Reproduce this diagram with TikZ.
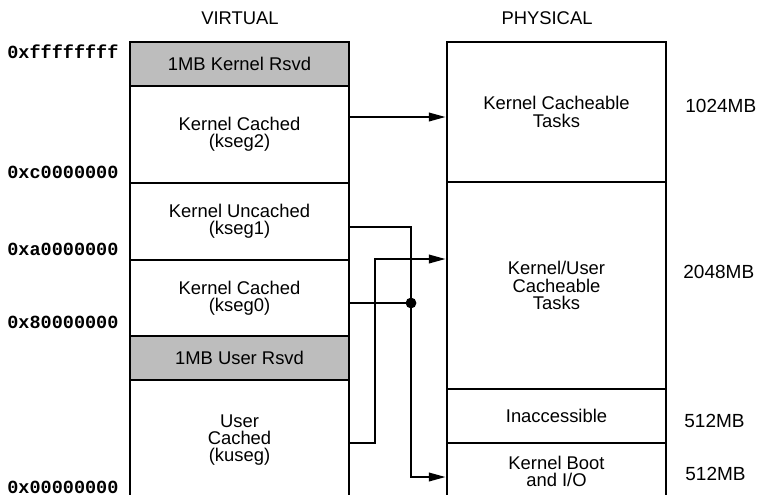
\documentclass[tikz,border=0pt]{standalone}
\usepackage{fontspec}
\setmainfont{Liberation Sans}
\newfontfamily\hexfont{Liberation Mono}
\usetikzlibrary{arrows.meta}
\begin{document}
\begin{tikzpicture}[x=0.5pt, y=-0.5pt, every node/.style={font=\fontsize{9.2}{8.7}\selectfont},
  seg/.style={draw, line width=1.2pt, minimum width=109.5pt, inner sep=0pt, align=center},
  rsvd/.style={seg, fill=black!26},
  addr/.style={font=\hexfont\bfseries\fontsize{9.25}{10}\selectfont, anchor=base west, inner sep=0pt},
  size/.style={font=\fontsize{9.5}{10}\selectfont, anchor=base west, inner sep=0pt},
  link/.style={line width=1.2pt, -{Triangle[length=8.5pt, width=4.2pt]}}]
\useasboundingbox (0,0) rectangle (763,494);
\node[anchor=base] (virt) at (240,24) {VIRTUAL};
\node[anchor=base] (phys) at (547,24) {PHYSICAL};
\node[rsvd, minimum height=22pt] (krsvd) at (239.5,64) {1MB Kernel Rsvd};
\node[seg, minimum height=48.5pt] (kseg2) at (239.5,134.5) {Kernel Cached\\(kseg2)};
\node[seg, minimum height=38.5pt] (kseg1) at (239.5,221.5) {Kernel Uncached\\(kseg1)};
\node[seg, minimum height=38pt] (kseg0) at (239.5,298) {Kernel Cached\\(kseg0)};
\node[rsvd, minimum height=22pt] (ursvd) at (239.5,358) {1MB User Rsvd};
\node[seg, minimum height=60pt] (kuseg) at (239.5,440) {User\\Cached\\(kuseg)};
\node[seg, minimum height=70pt] (kct) at (556.5,112) {Kernel Cacheable\\Tasks};
\node[seg, minimum height=103.5pt] (kuct) at (556.5,285.5) {Kernel/User\\Cacheable\\Tasks};
\node[seg, minimum height=27pt] (inacc) at (556.5,416) {Inaccessible};
\node[seg, minimum height=28.5pt] (kboot) at (556.5,471.5) {Kernel Boot\\and I/O};
\node[addr] (aF) at (7,58) {0xffffffff};
\node[addr] (aC) at (7,178) {0xc0000000};
\node[addr] (aA) at (7,255) {0xa0000000};
\node[addr] (a8) at (7,328) {0x80000000};
\node[addr] (a0) at (7,493) {0x00000000};
\node[size] (m1) at (685,112) {1024MB};
\node[size] (m2) at (683,278) {2048MB};
\node[size] (m3) at (684,427) {512MB};
\node[size] (m4) at (685,480) {512MB};
\coordinate (jn) at (411,303);
\coordinate (bus) at (375,259);
\coordinate (k2out) at ([yshift=8.75pt]kseg2.east);
\coordinate (k1out) at ([yshift=-2.75pt]kseg1.east);
\coordinate (kuout) at ([yshift=-1.5pt]kuseg.east);
\coordinate (bootin) at ([yshift=-2.75pt]kboot.west);
\draw[link] (k2out) -- (k2out -| kct.west);
\draw[link] (k1out) -| (jn) |- (bootin);
\draw[line width=1.2pt] (kseg0.east |- jn) -- (jn);
\fill (jn) circle[radius=2.7pt];
\draw[link] (kuout) -| (bus) -- (bus -| kuct.west);
\end{tikzpicture}
\end{document}
